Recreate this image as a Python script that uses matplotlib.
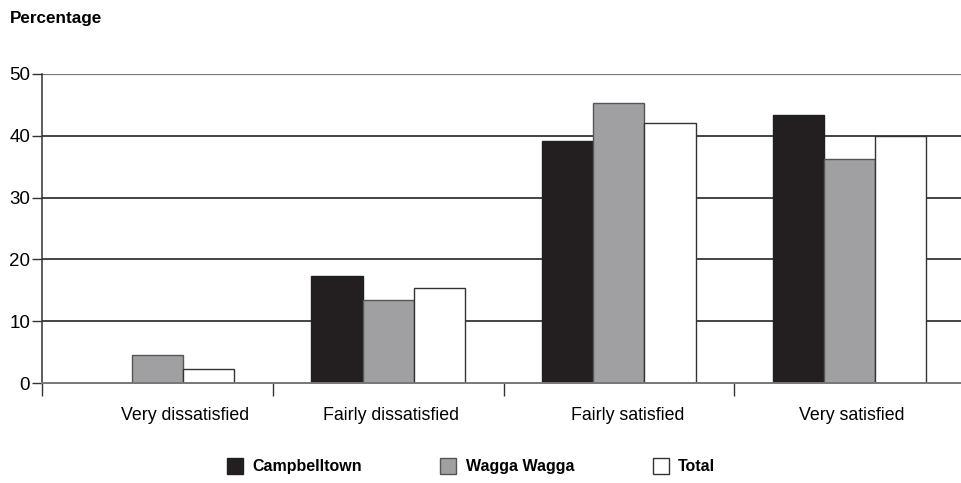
import matplotlib
matplotlib.use("Agg")
import matplotlib.pyplot as plt
import matplotlib.transforms as mtransforms
from matplotlib.patches import Patch
from matplotlib import font_manager
import numpy as np

categories = ["Very dissatisfied", "Fairly dissatisfied", "Fairly satisfied", "Very satisfied"]
series_names = ["Campbelltown", "Wagga Wagga", "Total"]
campbelltown = [0.0, 17.3, 39.1, 43.4]
wagga_wagga = [4.5, 13.5, 45.3, 36.3]
total = [2.2, 15.4, 42.1, 40.0]
y_ticks = [0, 10, 20, 30, 40, 50]

fill_colors = ["#231f20", "#a0a0a3", "#ffffff"]
edge_colors = ["#231f20", "#555555", "#333333"]

available = {f.name for f in font_manager.fontManager.ttflist}
narrow = "Liberation Sans Narrow" if "Liberation Sans Narrow" in available else "Liberation Sans"
plt.rcParams["font.family"] = [narrow, "DejaVu Sans"]

W, H = 961, 483
fig = plt.figure(figsize=(W / 100, H / 100), dpi=100)
ax = fig.add_axes([42 / W, 100 / H, (965 - 42) / W, 309 / H])

n = len(categories)
centers = np.arange(n) + 0.5
bar_w = 0.222
series = [campbelltown, wagga_wagga, total]
for i, vals in enumerate(series):
    ax.bar(centers + (i - 1) * bar_w, vals, width=bar_w, color=fill_colors[i],
           edgecolor=edge_colors[i], linewidth=1.0, zorder=3, label=series_names[i])

ax.set_xlim(0, n)
ax.set_ylim(0, 50)

# horizontal rules
for y in y_ticks[1:-1]:
    ax.axhline(y, color="#111111", linewidth=1.1, zorder=1)
ax.axhline(50, color="#777777", linewidth=1.6, zorder=1)

for s in ["top", "right"]:
    ax.spines[s].set_visible(False)
ax.spines["bottom"].set_color("#777777")
ax.spines["bottom"].set_linewidth(1.4)
ax.spines["bottom"].set_zorder(4)
ax.spines["left"].set_color("#333333")
ax.spines["left"].set_linewidth(1.1)

ax.set_yticks(y_ticks)
ax.set_yticklabels([str(v) for v in y_ticks], fontsize=13.5, fontfamily="Liberation Sans")
ax.tick_params(axis="y", length=7, width=1.0, color="#333333", pad=1.5)

ax.set_xticks(np.arange(n + 1))
ax.set_xticklabels([])
ax.tick_params(axis="x", which="major", length=9, width=1.0, color="#333333")
ax.set_xticks(centers, minor=True)
ax.set_xticklabels(categories, minor=True, fontsize=12.8)
ax.tick_params(axis="x", which="minor", length=0, pad=17)
shifts = [28, 3, 9, 2]
for lab, dx in zip(ax.get_xticklabels(minor=True), shifts):
    lab.set_transform(lab.get_transform() + mtransforms.ScaledTranslation(dx / 100, 0, fig.dpi_scale_trans))

fig.text(10 / W, 1 - 19 / H, "Percentage", fontsize=12.3, fontweight="bold",
         fontfamily="Liberation Sans", va="center", ha="left")

handles = [Patch(facecolor=fill_colors[i], edgecolor=edge_colors[i], linewidth=1.0)
           for i in range(3)]
leg = fig.legend(handles, series_names, loc="center", bbox_to_anchor=(471 / W, 1 - 466 / H),
                 ncol=3, frameon=False, handlelength=1.0, handleheight=1.2,
                 columnspacing=4.9, handletextpad=0.6,
                 prop={"family": "Liberation Sans", "weight": "bold", "size": 11.5})

fig.savefig("out.png", dpi=100)
